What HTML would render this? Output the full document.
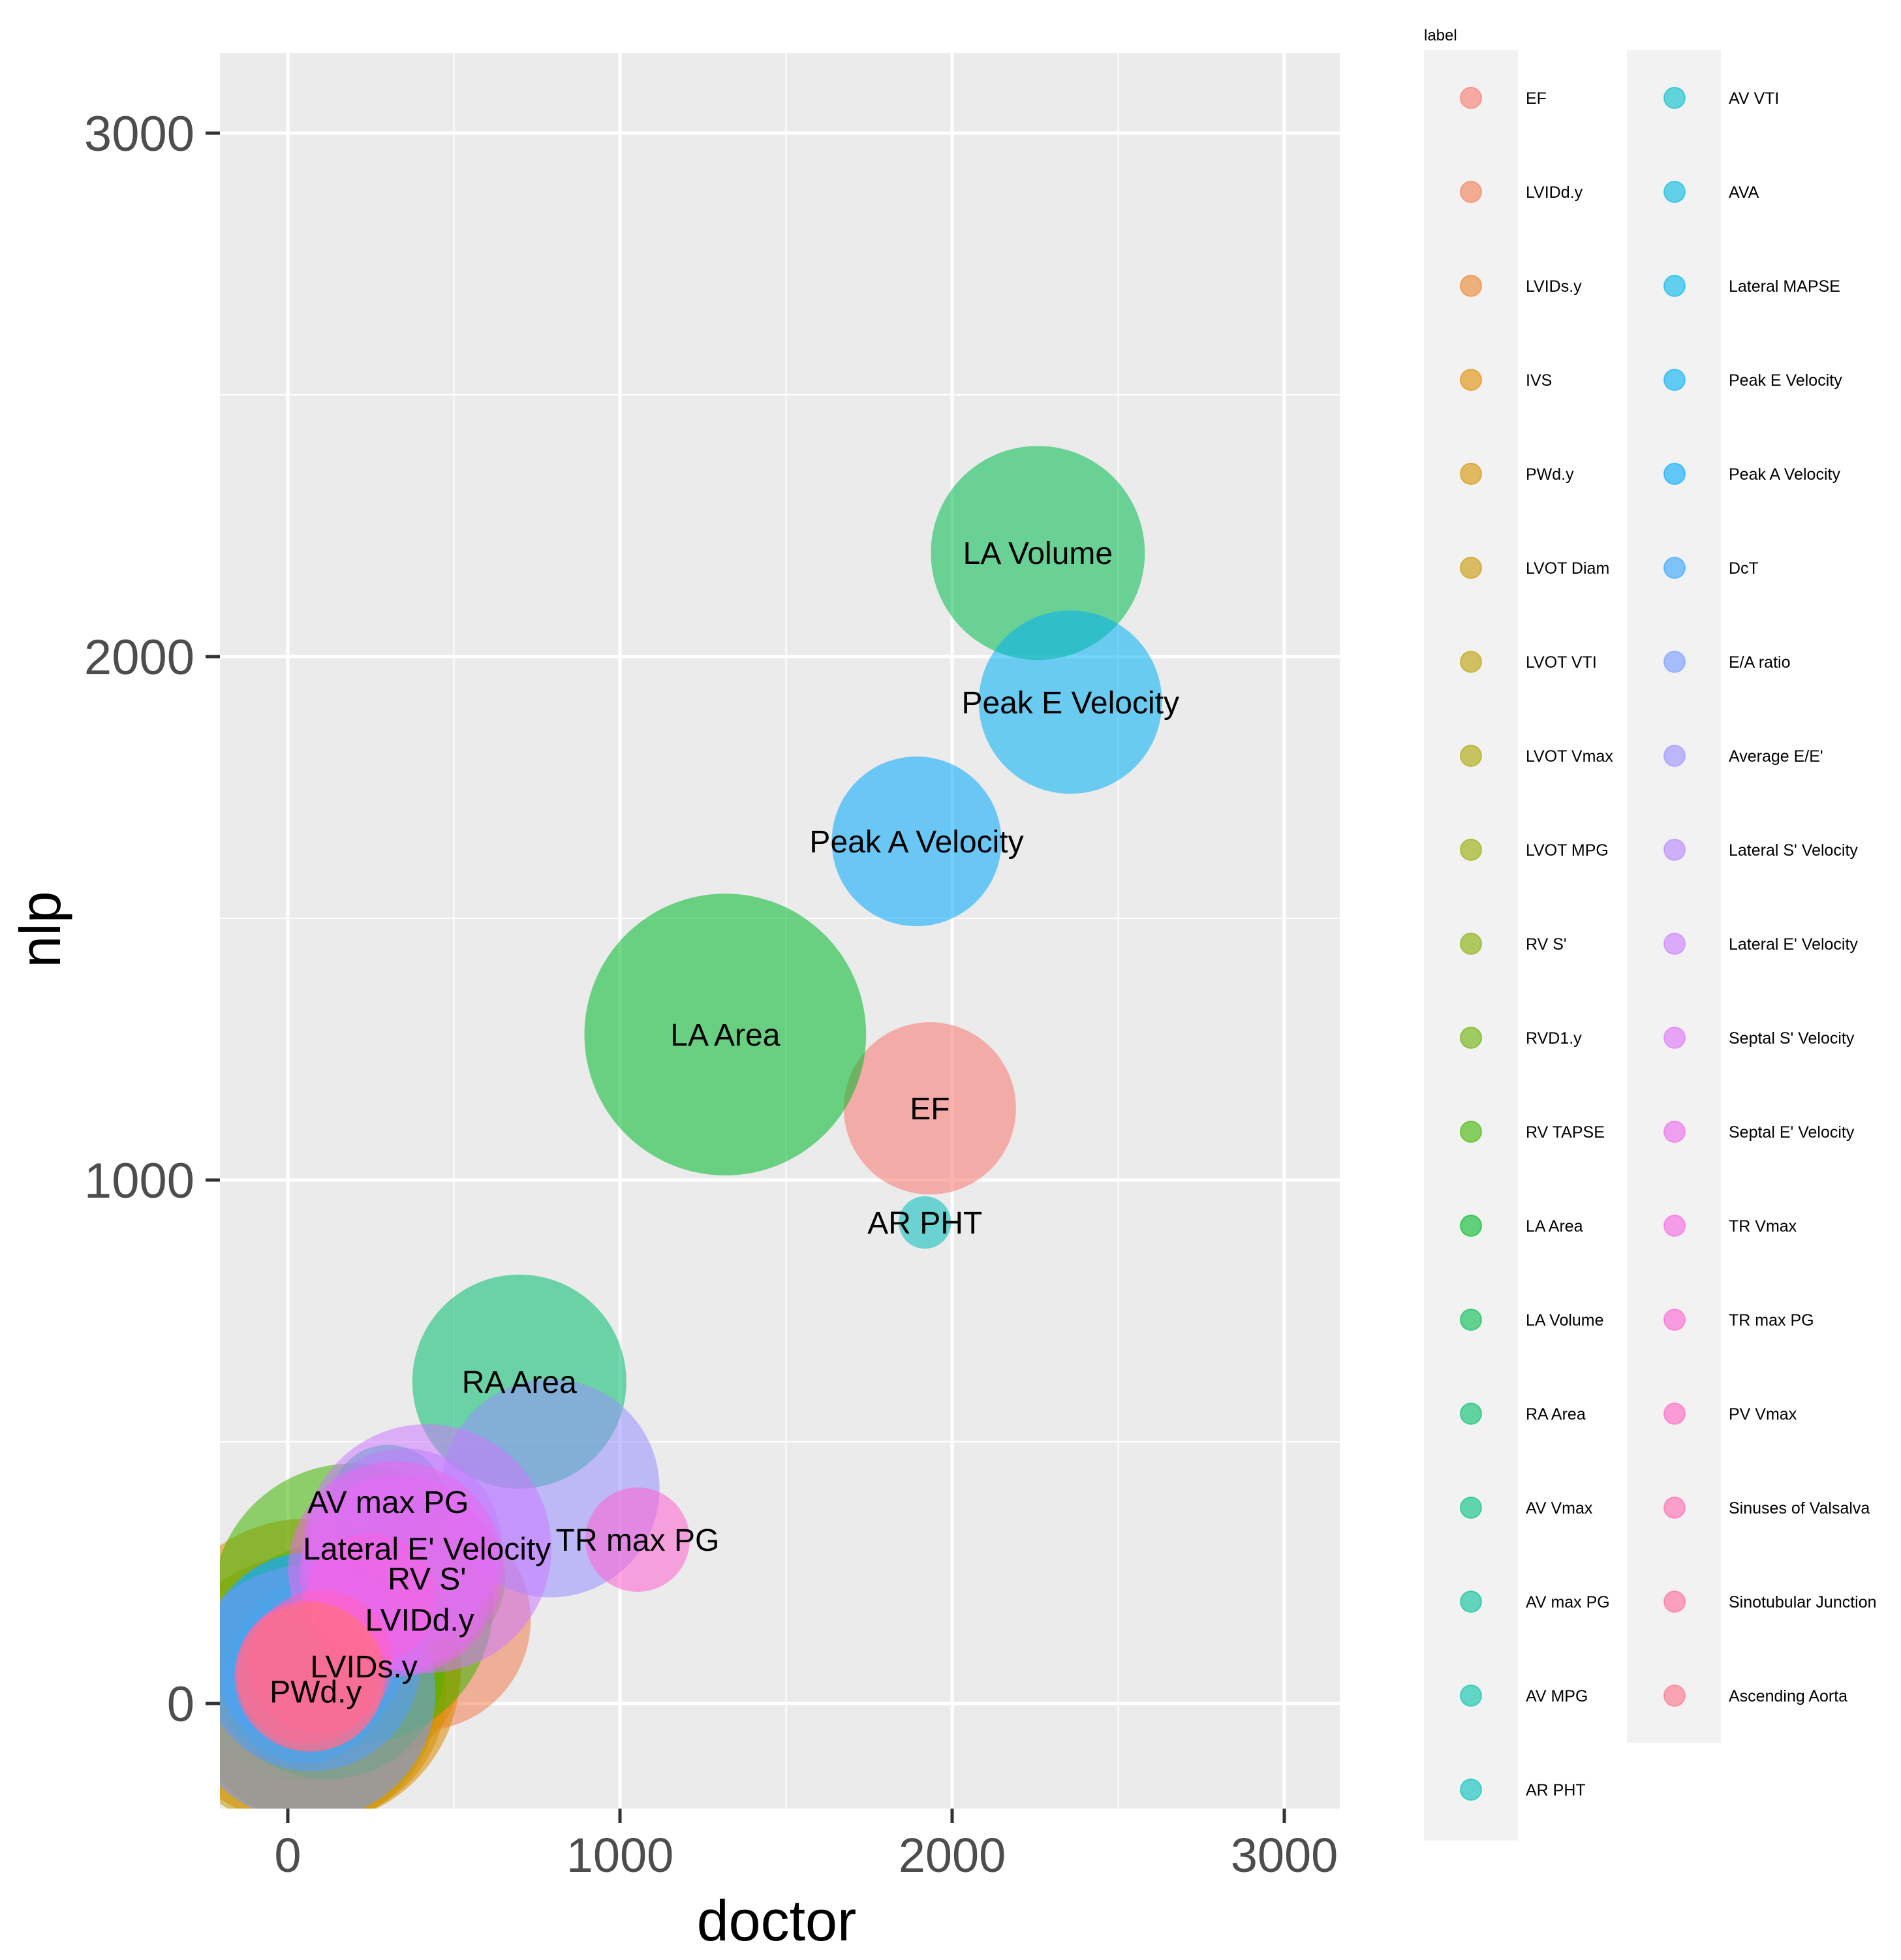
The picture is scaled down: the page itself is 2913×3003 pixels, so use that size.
<!DOCTYPE html>
<html><head><meta charset="utf-8"><title>doctor vs nlp bubble chart</title>
<style>
html,body{margin:0;padding:0;background:#fff;}
svg{display:block;font-family:"Liberation Sans",Arial,sans-serif;}
</style></head>
<body>
<svg id="chart" width="2913" height="3003" viewBox="0 0 2913 3003" xmlns="http://www.w3.org/2000/svg">
<defs><clipPath id="panelClip"><rect x="337" y="81" width="1716" height="2690"/></clipPath></defs>
<rect x="337" y="81" width="1716" height="2690" fill="#EBEBEB"/>
<g id="grid"></g>
<g id="bubbles" clip-path="url(#panelClip)"></g>
<g id="labels" clip-path="url(#panelClip)"></g>
<g id="axes"></g>
<text x="1190" y="2973" font-size="88" text-anchor="middle" fill="#000">doctor</text>
<text transform="translate(92,1424) rotate(-90)" font-size="88" text-anchor="middle" fill="#000">nlp</text>
<g id="legend"></g>
</svg>
<script>
const labels=["EF","LVIDd.y","LVIDs.y","IVS","PWd.y","LVOT Diam","LVOT VTI","LVOT Vmax","LVOT MPG","RV S'","RVD1.y","RV TAPSE","LA Area","LA Volume","RA Area","AV Vmax","AV max PG","AV MPG","AR PHT","AV VTI","AVA","Lateral MAPSE","Peak E Velocity","Peak A Velocity","DcT","E/A ratio","Average E/E'","Lateral S' Velocity","Lateral E' Velocity","Septal S' Velocity","Septal E' Velocity","TR Vmax","TR max PG","PV Vmax","Sinuses of Valsalva","Sinotubular Junction","Ascending Aorta"];
const doctorVals=[1933,397,229,57,84,40,30,60,80,419,120,195,1317,2258,697,60,302,50,1918,60,40,50,2356,1893,70,60,791,350,419,330,325,250,1053,100,60,66,70];
const nlpVals=[1137,160,71,60,23,20,40,50,70,239,80,190,1278,2198,615,90,385,40,919,100,50,60,1913,1647,80,20,411,300,296,250,257,200,313,80,60,52,50];
const sizeVals=[68,113,88,216,156,172,88,66,56,56,127,181,182,105,105,50,30,60,6.3,88,39,32,77,66,110,150,109,88,142,88,106,39,25,47,47,52,50];
const shownLabels=["EF","LVIDd.y","LVIDs.y","PWd.y","RV S'","LA Area","LA Volume","RA Area","AV max PG","AR PHT","Peak E Velocity","Peak A Velocity","Lateral E' Velocity","TR max PG"];
const xTicks=[0,1000,2000,3000];
const yTicks=[0,1000,2000,3000];
const xMinor=[500,1500,2500];
const yMinor=[500,1500,2500];

const X0=441,XS=0.509,Y0=2610,YS=0.802;
function xScale(v){return X0+v*XS;}
function yScale(v){return Y0-v*YS;}
function rScale(v){return 16*Math.sqrt(v);}
const NS="http://www.w3.org/2000/svg";
function mk(tag,attrs,parent){const e=document.createElementNS(NS,tag);for(const k in attrs)e.setAttribute(k,attrs[k]);parent.appendChild(e);return e;}
function hcl(h,c,l){
  const hr=h*Math.PI/180,u=c*Math.cos(hr),v=c*Math.sin(hr);
  const Xn=95.047,Yn=100,Zn=108.883;
  const un=4*Xn/(Xn+15*Yn+3*Zn),vn=9*Yn/(Xn+15*Yn+3*Zn);
  const Y=l>8?Yn*Math.pow((l+16)/116,3):Yn*l/903.3;
  const up=u/(13*l)+un,vp=v/(13*l)+vn;
  const Xv=9*Y*up/(4*vp),Z=-Xv/3-5*Y+3*Y/vp;
  const x=Xv/100,y=Y/100,z=Z/100;
  let r=3.2406*x-1.5372*y-0.4986*z,g=-0.9689*x+1.8758*y+0.0415*z,b=0.0557*x-0.2040*y+1.0570*z;
  const gam=t=>{t=t<=0.0031308?12.92*t:1.055*Math.pow(t,1/2.4)-0.055;return Math.round(Math.max(0,Math.min(1,t))*255);};
  return "rgb("+gam(r)+","+gam(g)+","+gam(b)+")";
}
const n=labels.length;
const colors=labels.map((_,i)=>hcl(15+360*i/n,100,65));

const grid=document.getElementById("grid");
xMinor.forEach(t=>{const l=mk("line",{x1:xScale(t),x2:xScale(t),y1:81,y2:2771,stroke:"#fff","stroke-width":2},grid);

});
yMinor.forEach(t=>{const l=mk("line",{x1:337,x2:2053,y1:yScale(t),y2:yScale(t),stroke:"#fff","stroke-width":2},grid);

});
xTicks.forEach(t=>{const l=mk("line",{x1:xScale(t),x2:xScale(t),y1:81,y2:2771,stroke:"#fff","stroke-width":5},grid);

});
yTicks.forEach(t=>{const l=mk("line",{x1:337,x2:2053,y1:yScale(t),y2:yScale(t),stroke:"#fff","stroke-width":5},grid);

});

const axes=document.getElementById("axes");
xTicks.forEach(t=>{
  const tk=mk("line",{x1:xScale(t),x2:xScale(t),y1:2771,y2:2793,stroke:"#333","stroke-width":5},axes);
  
  
  const tx=mk("text",{x:xScale(t),y:2868,"font-size":74,"text-anchor":"middle",fill:"#4D4D4D"},axes);
  tx.textContent=t;
  
  
});
yTicks.forEach(t=>{
  const tk=mk("line",{x1:315,x2:337,y1:yScale(t),y2:yScale(t),stroke:"#333","stroke-width":5},axes);
  
  
  const tx=mk("text",{x:298,y:yScale(t)+27,"font-size":76,"text-anchor":"end",fill:"#4D4D4D"},axes);
  tx.textContent=t;
  
  
});

const bub=document.getElementById("bubbles");
labels.forEach((lab,i)=>{
  const c=mk("circle",{cx:xScale(doctorVals[i]),cy:yScale(nlpVals[i]),r:rScale(sizeVals[i]),fill:colors[i],"fill-opacity":0.55},bub);
  
  
});
const lg=document.getElementById("labels");
labels.forEach((lab,i)=>{
  if(shownLabels.indexOf(lab)<0)return;
  const t=mk("text",{x:xScale(doctorVals[i]),y:yScale(nlpVals[i])+17,"font-size":48,"text-anchor":"middle",fill:"#000"},lg);
  t.textContent=lab;
  
  
});

const leg=document.getElementById("legend");
const lt=mk("text",{x:2182,y:62,"font-size":24,fill:"#000"},leg);
lt.textContent="label";


const b1=mk("rect",{x:2182,y:77,width:144,height:2743,fill:"#F2F2F2"},leg);


const b2=mk("rect",{x:2493,y:77,width:144,height:2593,fill:"#F2F2F2"},leg);


labels.forEach((lab,i)=>{
  const col=i<19?0:1,row=i<19?i:i-19;
  const kx=col?2566:2254,lx=col?2649:2338,ky=150+row*144;
  const k=mk("circle",{cx:kx,cy:ky,r:16,fill:colors[i],"fill-opacity":0.6,stroke:colors[i],"stroke-opacity":0.6,"stroke-width":2},leg);
  
  
  const t=mk("text",{x:lx,y:ky+9,"font-size":25,fill:"#000"},leg);
  t.textContent=lab;
  
  
});
</script>
</body></html>
